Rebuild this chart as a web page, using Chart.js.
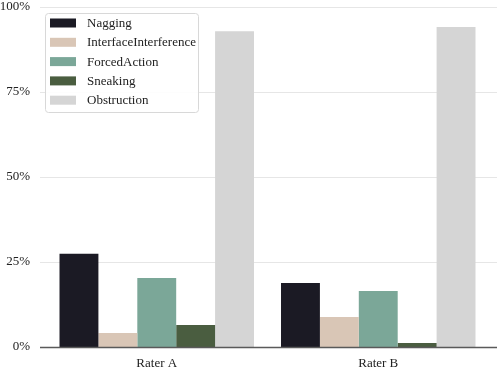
<!DOCTYPE html>
<html><head><meta charset="utf-8">
<script src="https://cdn.jsdelivr.net/npm/chart.js@4/dist/chart.umd.min.js"></script>
<style>html,body{margin:0;padding:0;background:#fff}#wrap{width:500px;height:368px;position:relative}</style>
</head><body><div id="wrap"><canvas id="c" width="500" height="368"></canvas></div>
<script>
const categories = ["Rater A", "Rater B"];
const seriesNames = ["Nagging", "InterfaceInterference", "ForcedAction", "Sneaking", "Obstruction"];
const nagging = [27.4, 18.8];
const interfaceInterference = [4.1, 8.8];
const forcedAction = [20.3, 16.5];
const sneaking = [6.5, 1.2];
const obstruction = [92.9, 94.1];
const yTicks = [0, 25, 50, 75, 100];
const colors = ["#1b1a24", "#d9c6b6", "#7ba798", "#4a5d40", "#d5d5d5"];
const seriesValues = [nagging, interfaceInterference, forcedAction, sneaking, obstruction];
const FONT = "'Liberation Serif', 'Times New Roman', serif";

const gridPlugin = {
  id: 'gridPlugin',
  beforeDatasetsDraw(chart) {
    const ctx = chart.ctx, y = chart.scales.y;
    ctx.save();
    yTicks.forEach(v => {
      const py = Math.round(y.getPixelForValue(v)) + 0.5;
      ctx.beginPath();
      ctx.strokeStyle = '#e6e6e6'; ctx.lineWidth = 1;
      ctx.moveTo(40, py); ctx.lineTo(497, py); ctx.stroke();
    });
    ctx.restore();
  },
  afterDatasetsDraw(chart) {
    const ctx = chart.ctx, y = chart.scales.y;
    ctx.save();
    const py = Math.round(y.getPixelForValue(0)) + 0.5;
    ctx.strokeStyle = '#5a5a5a'; ctx.lineWidth = 1.5;
    ctx.beginPath(); ctx.moveTo(40, py); ctx.lineTo(497, py); ctx.stroke();
    // legend
    const x0 = 45, y0 = 13, w = 153, h = 99;
    ctx.fillStyle = 'rgba(255,255,255,0.9)';
    ctx.strokeStyle = '#d8d8d8'; ctx.lineWidth = 1;
    ctx.beginPath();
    if (ctx.roundRect) ctx.roundRect(x0 + 0.5, y0 + 0.5, w, h, 3); else ctx.rect(x0 + 0.5, y0 + 0.5, w, h);
    ctx.fill(); ctx.stroke();
    ctx.font = "13px " + FONT;
    ctx.textBaseline = 'middle';
    seriesNames.forEach((n, i) => {
      const cy = 23 + i * 19.3;
      ctx.fillStyle = colors[i];
      ctx.fillRect(50, cy - 4.5, 26, 9);
      ctx.fillStyle = '#222';
      ctx.fillText(n, 87, cy + 0.5);
    });
    ctx.restore();
  }
};

new Chart(document.getElementById('c'), {
  type: 'bar',
  data: {
    labels: categories,
    datasets: seriesNames.map((n, i) => ({
      label: n, data: seriesValues[i], backgroundColor: colors[i],
      borderWidth: 0, categoryPercentage: 0.878, barPercentage: 1.0
    }))
  },
  options: {
    responsive: false, animation: false,
    layout: { padding: { top: 7, right: 11, left: 0, bottom: 0 } },
    plugins: { legend: { display: false }, tooltip: { enabled: false } },
    scales: {
      x: {
        grid: { display: false, drawTicks: false },
        border: { display: false },
        ticks: { color: '#222', font: { family: FONT, size: 13 }, padding: 9 },
        afterFit(s) { s.height = 21; s.paddingLeft = 0; s.paddingRight = 0; }
      },
      y: {
        min: 0, max: 100,
        afterBuildTicks(s) { s.ticks = yTicks.map(v => ({ value: v })); },
        grid: { display: false, drawTicks: false },
        border: { display: false },
        ticks: { color: '#222', font: { family: FONT, size: 13 }, padding: 16, callback: v => v + '%' },
        afterFit(s) { s.width = 46; s.paddingTop = 0; s.paddingBottom = 0; }
      }
    }
  },
  plugins: [gridPlugin]
});
</script>
</body></html>
